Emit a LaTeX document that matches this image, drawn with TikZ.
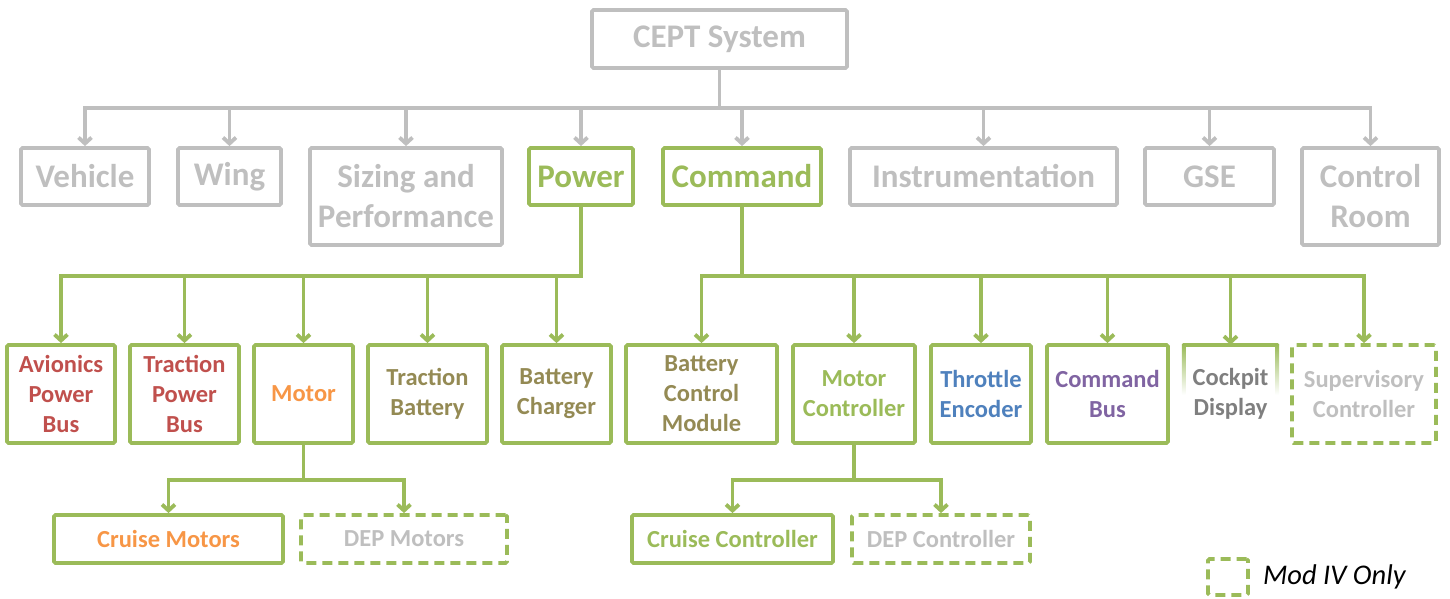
\documentclass[tikz,border=0pt]{standalone}
\usepackage{fontspec}
\setmainfont{Carlito}
\usepackage{tikz}
\usetikzlibrary{arrows.meta,positioning}
\definecolor{wbsgrey}{HTML}{BFBFBF}
\definecolor{wbsgreen}{HTML}{9BBB59}
\definecolor{wbsred}{HTML}{C0504D}
\definecolor{wbsorange}{HTML}{F79646}
\definecolor{wbsolive}{HTML}{948A54}
\definecolor{wbsblue}{HTML}{4F81BD}
\definecolor{wbspurple}{HTML}{8064A2}
\definecolor{wbsdark}{HTML}{7F7F7F}
\tikzset{
  box/.style={draw=#1, line width=3.8pt, rounded corners=1.5pt, align=center,
              inner sep=0pt},
  dbox/.style={box=wbsgreen, dash pattern=on 10pt off 6pt},
  big/.style={font=\fontsize{33}{40}\selectfont\bfseries},
  small/.style={font=\fontsize{24.5}{30}\selectfont\bfseries},
  tree/.style={-{Straight Barb[length=6pt,width=13pt]}, line width=3.8pt,
               draw=#1},
}

\begin{document}
\begin{tikzpicture}[x=1pt, y=-1pt]
\useasboundingbox (0,0) rectangle (1450,598);

% ---------------- top level ----------------------------------------------
\node[box=wbsgrey, big, text=wbsgrey, minimum width=255, minimum height=58]
   at (719.5,39) (cept) {CEPT System};
\coordinate (topbus) at (0,108);

% ---------------- subsystems ---------------------------------------------
\node[box=wbsgrey, big, text=wbsgrey, minimum width=128, minimum height=57]
   at (85,176.5) (vehicle) {Vehicle};
\node[box=wbsgrey, big, text=wbsgrey, minimum width=103, minimum height=57]
   at (229.5,176.5) (wing) {Wing};
\node[box=wbsgrey, big, text=wbsgrey, minimum width=192, minimum height=97]
   at (406,196.5) (sizing) {Sizing and\\Performance};
\node[box=wbsgreen, big, text=wbsgreen, minimum width=104, minimum height=57]
   at (581,176.5) (power) {Power};
\node[box=wbsgreen, big, text=wbsgreen, minimum width=158, minimum height=57]
   at (742,176.5) (command) {Command};
\node[box=wbsgrey, big, text=wbsgrey, minimum width=267, minimum height=57]
   at (983.5,176.5) (instr) {Instrumentation};
\node[box=wbsgrey, big, text=wbsgrey, minimum width=129, minimum height=57]
   at (1209.5,176.5) (gse) {GSE};
\node[box=wbsgrey, big, text=wbsgrey, minimum width=137, minimum height=97]
   at (1370.5,196.5) (ctrlroom) {Control\\Room};

\foreach \n in {vehicle,wing,sizing,power,command,instr,gse,ctrlroom}
  \draw[tree=wbsgrey] (cept.south) -- (cept.south |- topbus) -| (\n.north);

% ---------------- power branch -------------------------------------------
\coordinate (lowbus) at (0,276);
\node[box=wbsgreen, small, text=wbsred, minimum width=108, minimum height=98]
   at (61,394) (avbus) {Avionics\\Power\\Bus};
\node[box=wbsgreen, small, text=wbsred, minimum width=109, minimum height=98]
   at (184.5,394) (trbus) {Traction\\Power\\Bus};
\node[box=wbsgreen, small, text=wbsorange, minimum width=99, minimum height=98]
   at (303.5,394) (motor) {Motor};
\node[box=wbsgreen, small, text=wbsolive, minimum width=119, minimum height=98]
   at (427.5,394) (trbatt) {Traction\\Battery};
\node[box=wbsgreen, small, text=wbsolive, minimum width=109, minimum height=98]
   at (556.5,394) (charger) {Battery\\Charger};

\foreach \n in {avbus,trbus,motor,trbatt,charger}
  \draw[tree=wbsgreen] (power.south) -- (power.south |- lowbus) -| (\n.north);

% ---------------- command branch -----------------------------------------
\node[box=wbsgreen, small, text=wbsolive, minimum width=151, minimum height=98]
   at (701.5,394) (bcm) {Battery\\Control\\Module};
\node[box=wbsgreen, small, text=wbsgreen, minimum width=122, minimum height=98]
   at (854,394) (mctrl) {Motor\\Controller};
\node[box=wbsgreen, small, text=wbsblue, minimum width=100, minimum height=98]
   at (981,394) (throttle) {Throttle\\Encoder};
\node[box=wbsgreen, small, text=wbspurple, minimum width=121, minimum height=98]
   at (1107.5,394) (cmdbus) {Command\\Bus};
\node[small, text=wbsdark, align=center, inner sep=0pt, minimum width=93,
      minimum height=98]
   at (1230.5,394) (cockpit) {Cockpit\\Display};
\draw[line width=3.8pt, wbsgreen, line cap=round]
   (cockpit.north west) -- (cockpit.north east);
\shade[top color=wbsgreen, bottom color=white]
   ([xshift=-1.9pt]cockpit.north west) rectangle
   ([xshift=1.9pt,yshift=-50pt]cockpit.north west);
\shade[top color=wbsgreen, bottom color=white]
   ([xshift=-1.9pt]cockpit.north east) rectangle
   ([xshift=1.9pt,yshift=-50pt]cockpit.north east);
\node[dbox, small, text=wbsgrey, minimum width=144, minimum height=98]
   at (1364,394) (superv) {Supervisory\\Controller};

\foreach \n in {bcm,mctrl,throttle,cmdbus,cockpit,superv}
  \draw[tree=wbsgreen] (command.south) -- (command.south |- lowbus) -| (\n.north);

% ---------------- motors / controllers -----------------------------------
\coordinate (subbus) at (0,480);
\node[box=wbsgreen, small, text=wbsorange, minimum width=229, minimum height=48]
   at (168.5,539) (cruisem) {Cruise Motors};
\node[dbox, small, text=wbsgrey, minimum width=206, minimum height=48]
   at (404,539) (depm) {DEP Motors};
\node[box=wbsgreen, small, text=wbsgreen, minimum width=201, minimum height=48]
   at (732.5,539) (cruisec) {Cruise Controller};
\node[dbox, small, text=wbsgrey, minimum width=178, minimum height=48]
   at (941,539) (depc) {DEP Controller};

\foreach \n in {cruisem,depm}
  \draw[tree=wbsgreen] (motor.south) -- (motor.south |- subbus) -| (\n.north);
\foreach \n in {cruisec,depc}
  \draw[tree=wbsgreen] (mctrl.south) -- (mctrl.south |- subbus) -| (\n.north);

% ---------------- legend -------------------------------------------------
\node[dbox, minimum width=40, minimum height=36] at (1228,577) (legbox) {};
\node[right=13pt of legbox, inner sep=0pt,
      font=\fontsize{28.5}{34}\selectfont\itshape] (legtext) {Mod IV Only};
\end{tikzpicture}
\end{document}
